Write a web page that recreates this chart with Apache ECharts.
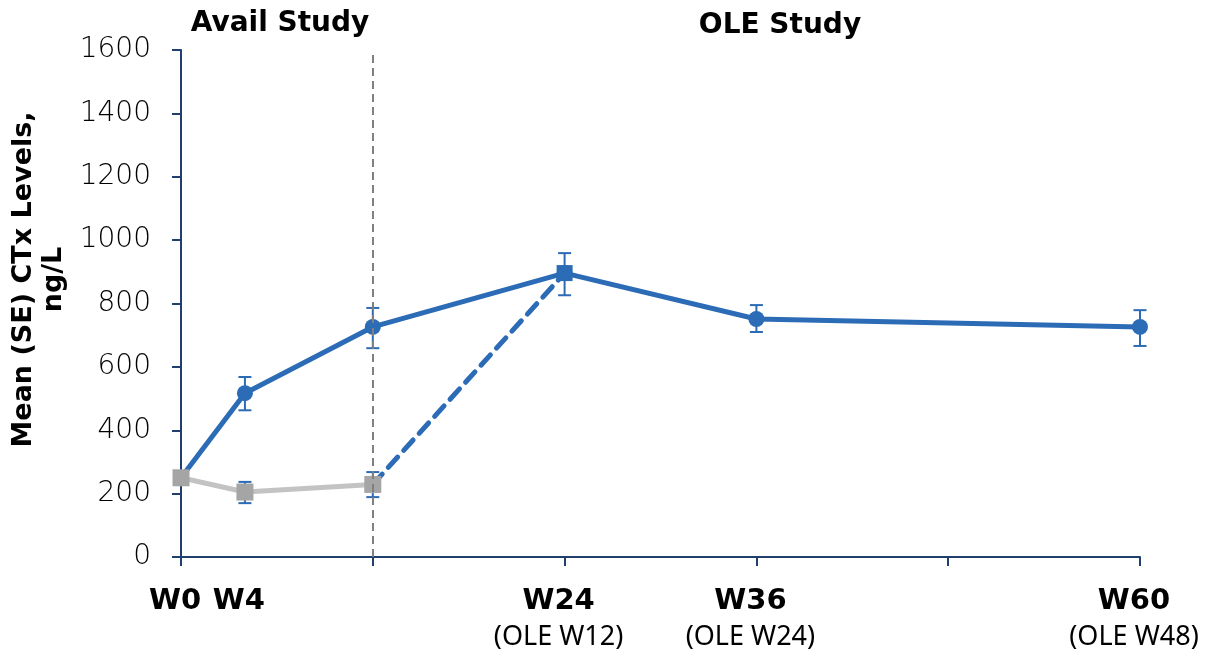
<!DOCTYPE html>
<html>
<head>
<meta charset="utf-8">
<script src="https://cdn.jsdelivr.net/npm/echarts@6/dist/echarts.min.js"></script>
<style>
  html, body { margin: 0; padding: 0; background: #fff; }
  #chart { width: 1211px; height: 657px; }
</style>
</head>
<body>
<div id="chart"></div>
<script>
// Study weeks and mean CTx levels (ng/L)
const weeksActive = [0, 4, 12, 24, 36, 60];
const meanActive  = [250, 517, 726, 896, 751, 726];
const seLowActive = [null, 463, 659, 826, 710, 666];
const seHighActive = [null, 568, 786, 959, 795, 779];

const weeksPlacebo = [0, 4, 12];
const meanPlacebo  = [250, 205, 229];
const seLowPlacebo = [null, 170, 189];
const seHighPlacebo = [null, 237, 268];

// Placebo patients switching to active treatment in the OLE
const weeksSwitch = [12, 24];
const meanSwitch  = [229, 896];

// Axis tick labels
const xLabelWeeks = [0, 4, 24, 36, 60];
const xLabelMain  = ['W0', 'W4', 'W24', 'W36', 'W60'];
const xLabelSub   = ['', '', '(OLE W12)', '(OLE W24)', '(OLE W48)'];
const studyBoundaryWeek = 12;
const studyTitles = ['Avail Study', 'OLE Study'];
const yAxisTitle = 'Mean (SE) CTx Levels,\nng/L';

const BLUE = '#2C6BB5';
const GREY_LINE = '#C3C3C3';
const GREY_MARK = '#A5A5A5';
const AXIS = '#1F3F6E';

function pairs(xs, ys) { return xs.map((x, i) => [x, ys[i]]); }

const errorData = [];
weeksActive.forEach((w, i) => { if (seLowActive[i] != null) errorData.push([w, seLowActive[i], seHighActive[i]]); });
weeksPlacebo.forEach((w, i) => { if (seLowPlacebo[i] != null) errorData.push([w, seLowPlacebo[i], seHighPlacebo[i]]); });

// W4 sits close to W0, so its label goes on an overlaid axis of its own
const nearWeeks = xLabelWeeks.filter(w => w > 0 && w < 12);
const mainWeeks = xLabelWeeks.filter(w => nearWeeks.indexOf(w) < 0);

function weekLabel(v) {
  const i = xLabelWeeks.indexOf(v);
  if (i < 0) return '';
  return xLabelSub[i] ? '{b|' + xLabelMain[i] + '}\n{s|' + xLabelSub[i] + '}' : '{b|' + xLabelMain[i] + '}';
}
const labelRich = {
  b: { fontFamily: 'DejaVu Sans', fontWeight: 'bold', fontSize: 29, color: '#000', lineHeight: 36, padding: [0, 12, 0, 0] },
  s: { fontFamily: 'Noto Sans', fontSize: 27, color: '#000', lineHeight: 36, padding: [0, 12, 0, 0] }
};

const chart = echarts.init(document.getElementById('chart'), null, { renderer: 'canvas' });

chart.setOption({
  animation: false,
  backgroundColor: '#fff',
  title: [
    { text: studyTitles[0], left: 275, top: 5, textAlign: 'center',
      textStyle: { fontFamily: 'DejaVu Sans', fontWeight: 'bold', fontSize: 28, color: '#000' } },
    { text: studyTitles[1], left: 775, top: 7, textAlign: 'center',
      textStyle: { fontFamily: 'DejaVu Sans', fontWeight: 'bold', fontSize: 28, color: '#000' } }
  ],
  grid: { left: 181, right: 71, top: 50, bottom: 100, containLabel: false, outerBoundsMode: 'none' },
  xAxis: [
    {
      type: 'value', min: 0, max: 60, interval: 12,
      axisLine: { show: true, lineStyle: { color: AXIS, width: 2 } },
      axisTick: { show: true, length: 9, lineStyle: { color: AXIS, width: 2 } },
      splitLine: { show: false },
      axisLabel: {
        customValues: mainWeeks,
        showMinLabel: true, showMaxLabel: true, hideOverlap: false,
        margin: 26, formatter: weekLabel, rich: labelRich
      }
    },
    {
      type: 'value', min: 0, max: 60, position: 'bottom',
      axisLine: { show: false }, axisTick: { show: false }, splitLine: { show: false },
      axisLabel: {
        customValues: nearWeeks,
        hideOverlap: false,
        margin: 26, formatter: weekLabel, rich: labelRich
      }
    }
  ],
  yAxis: {
    type: 'value', min: 0, max: 1600, interval: 200,
    name: yAxisTitle, nameLocation: 'middle', nameRotate: 90, nameGap: 92,
    nameTextStyle: {
      fontFamily: 'DejaVu Sans', fontWeight: 'bold', fontSize: 27, color: '#000', lineHeight: 30,
      padding: [0, 0, 0, 48]
    },
    axisLine: { show: true, lineStyle: { color: AXIS, width: 2 } },
    axisTick: { show: true, length: 9, lineStyle: { color: AXIS, width: 2 } },
    splitLine: { show: false },
    axisLabel: {
      fontFamily: 'DejaVu Sans', fontWeight: 200, fontSize: 28, color: '#000', margin: 30,
      formatter: function (v) { return String(v); }
    }
  },
  series: [
    {
      type: 'custom', name: 'SE', z: 1,
      data: errorData,
      renderItem: function (params, api) {
        const x = api.value(0);
        const lo = api.coord([x, api.value(1)]);
        const hi = api.coord([x, api.value(2)]);
        const cap = 6.5;
        const style = { stroke: BLUE, lineWidth: 2, fill: null };
        return {
          type: 'group',
          children: [
            { type: 'line', shape: { x1: lo[0], y1: lo[1], x2: hi[0], y2: hi[1] }, style: style },
            { type: 'line', shape: { x1: lo[0] - cap, y1: lo[1], x2: lo[0] + cap, y2: lo[1] }, style: style },
            { type: 'line', shape: { x1: hi[0] - cap, y1: hi[1], x2: hi[0] + cap, y2: hi[1] }, style: style }
          ]
        };
      }
    },
    {
      type: 'line', name: 'Active', z: 2,
      data: pairs(weeksActive, meanActive),
      symbol: 'circle', symbolSize: 16, showAllSymbol: true,
      lineStyle: { color: BLUE, width: 5 },
      itemStyle: { color: BLUE }
    },
    {
      type: 'line', name: 'Switch', z: 3,
      data: pairs(weeksSwitch, meanSwitch).map((p, i) => i === 0 ? { value: p, symbol: 'none' } : { value: p }),
      symbol: 'rect', symbolSize: 16, showAllSymbol: true,
      lineStyle: { color: BLUE, width: 5, type: [14, 9], cap: 'round' },
      itemStyle: { color: BLUE }
    },
    {
      type: 'line', name: 'Placebo', z: 4,
      data: pairs(weeksPlacebo, meanPlacebo),
      symbol: 'rect', symbolSize: 17, showAllSymbol: true,
      lineStyle: { color: GREY_LINE, width: 5 },
      itemStyle: { color: GREY_MARK },
      markLine: {
        silent: true, symbol: 'none', label: { show: false },
        lineStyle: { color: '#808080', width: 2, type: [8, 5] },
        data: [{ xAxis: studyBoundaryWeek }]
      }
    }
  ]
});
</script>
</body>
</html>
